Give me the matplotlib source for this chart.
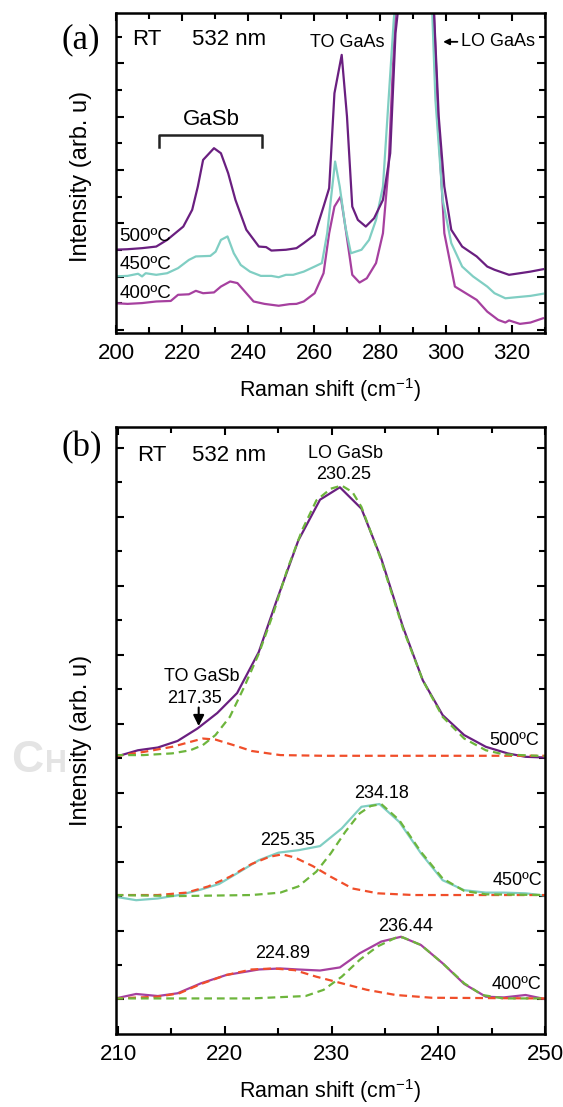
import matplotlib
matplotlib.use("Agg")
import matplotlib.pyplot as plt
from matplotlib.ticker import MultipleLocator

plt.rcParams['font.family'] = ['Liberation Sans', 'DejaVu Sans']
plt.rcParams['mathtext.default'] = 'regular'

# ---- panel (a): full spectra, y in arb. units (offset curves)
a_x500 = [199.2, 203.5, 207.9, 212.2, 215.5, 220.4, 223.1, 224.8, 226.4, 229.7, 231.8, 234.0, 236.2, 239.5,
          243.3, 245.5, 247.1, 251.5, 254.7, 256.9, 260.2, 262.9, 264.6, 266.2, 268.4, 270.0, 271.6, 273.3,
          275.7, 278.2, 280.9, 283.1, 284.7, 285.8, 288.0, 291.0, 294.0, 296.2, 297.8, 299.5, 301.6, 304.9,
          309.3, 312.5, 314.7, 319.1, 322.4, 325.6, 329.4]
a_y500 = [3.13, 3.15, 3.19, 3.25, 3.50, 4.00, 4.63, 5.50, 6.50, 6.94, 6.75, 6.00, 5.00, 3.88,
          3.25, 3.23, 3.10, 3.13, 3.19, 3.38, 3.69, 4.75, 5.44, 9.00, 10.44, 8.13, 4.75, 4.25,
          4.00, 4.31, 5.00, 6.75, 11.25, 12.5, 20.0, 25.0, 20.0, 12.5, 8.13, 5.50, 3.88, 3.25,
          2.88, 2.50, 2.38, 2.19, 2.25, 2.31, 2.40]

a_x450 = [199.2, 203.5, 206.7, 207.9, 209.0, 212.2, 215.5, 218.8, 222.1, 224.2, 228.6, 230.2, 231.8, 233.8,
          235.7, 237.8, 240.6, 243.9, 247.1, 249.3, 251.5, 253.7, 256.9, 260.2, 262.4, 264.0, 265.1, 266.4,
          267.8, 269.5, 271.2, 274.4, 276.7, 278.8, 280.9, 282.6, 284.2, 285.3, 288.0, 291.0, 294.0, 295.7,
          296.8, 299.0, 301.6, 304.9, 308.2, 312.5, 314.7, 318.0, 321.3, 325.6, 329.4]
a_y450 = [2.13, 2.15, 2.23, 2.13, 2.25, 2.19, 2.25, 2.44, 2.75, 2.88, 2.90, 3.06, 3.50, 3.63,
          3.00, 2.56, 2.31, 2.15, 2.15, 2.10, 2.19, 2.19, 2.31, 2.50, 2.63, 3.75, 5.00, 6.44,
          5.50, 4.00, 3.00, 3.13, 3.50, 4.25, 5.50, 8.75, 11.8, 13.0, 20.0, 25.0, 20.0, 12.5,
          8.75, 5.00, 3.38, 2.50, 2.13, 1.75, 1.50, 1.31, 1.35, 1.40, 1.48]

a_x400 = [199.2, 203.5, 207.9, 212.2, 216.6, 218.8, 222.1, 224.2, 226.4, 229.7, 231.8, 234.6, 236.8, 239.5,
          241.7, 245.0, 249.3, 252.6, 254.7, 256.9, 260.2, 262.9, 264.6, 266.2, 268.1, 269.5, 271.6, 273.8,
          276.0, 278.8, 280.9, 282.6, 283.7, 284.7, 285.8, 288.0, 291.0, 294.0, 296.2, 297.8, 299.5, 302.7,
          306.0, 309.3, 312.5, 315.8, 318.0, 319.1, 322.4, 325.6, 329.4]
a_y400 = [1.13, 1.10, 1.13, 1.19, 1.21, 1.44, 1.46, 1.59, 1.50, 1.53, 1.75, 1.94, 1.88, 1.50,
          1.19, 1.10, 1.03, 1.09, 1.10, 1.19, 1.50, 2.25, 3.75, 4.75, 5.13, 4.00, 2.19, 1.90,
          2.06, 2.63, 3.75, 6.25, 9.38, 12.0, 13.0, 20.0, 25.0, 20.0, 12.5, 7.50, 3.75, 1.75,
          1.50, 1.25, 0.81, 0.50, 0.40, 0.48, 0.35, 0.40, 0.56]

# ---- panel (b): GaSb region with peak fits
b_x500 = [209.76, 211.86, 213.72, 215.57, 217.43, 219.29, 221.15, 223.18, 224.86, 226.89, 228.92, 230.78,
          232.80, 234.66, 236.69, 238.55, 240.41, 242.43, 244.46, 246.49, 248.18, 250.03]
b_y500 = [7.04, 7.23, 7.31, 7.50, 7.86, 8.31, 8.89, 10.08, 11.58, 13.32, 14.50, 14.86,
          14.24, 12.79, 10.81, 9.26, 8.25, 7.67, 7.33, 7.14, 7.04, 7.02]
b_fit_lo500_x = [209.76, 212.36, 215.07, 216.76, 217.94, 219.12, 220.47, 221.82, 223.18, 224.53, 225.88,
                 227.23, 228.58, 229.93, 230.95, 231.96, 232.80, 234.66, 236.69, 238.55, 240.41, 242.43,
                 244.46, 246.15, 250.03]
b_fit_lo500_y = [7.09, 7.09, 7.14, 7.23, 7.38, 7.67, 8.20, 9.07, 10.03, 11.19, 12.50,
                 13.61, 14.48, 14.82, 14.91, 14.72, 14.29, 12.74, 10.76, 9.26, 8.20, 7.57,
                 7.23, 7.11, 7.06]
b_fit_to500_x = [209.76, 212.36, 215.07, 217.09, 217.94, 219.12, 220.81, 222.50, 225.20, 229.26, 250.03]
b_fit_to500_y = [7.06, 7.18, 7.33, 7.50, 7.57, 7.54, 7.38, 7.21, 7.09, 7.07, 7.07]

b_x450 = [209.76, 211.69, 213.72, 215.74, 217.77, 219.46, 221.15, 223.18, 225.03, 226.89, 228.92, 230.95,
          232.80, 234.49, 236.35, 238.38, 240.41, 242.43, 244.46, 246.15, 248.18, 250.03]
b_y450 = [2.98, 2.88, 2.93, 3.03, 3.19, 3.35, 3.66, 4.04, 4.26, 4.33, 4.45, 4.96,
          5.59, 5.67, 5.15, 4.24, 3.46, 3.17, 3.10, 3.10, 3.08, 3.01]
b_fit_a450_x = [209.76, 213.72, 216.42, 218.45, 220.47, 222.50, 224.19, 225.37, 226.55, 228.24, 229.93,
                231.96, 234.32, 237.70, 250.03]
b_fit_a450_y = [3.03, 3.03, 3.10, 3.28, 3.56, 3.93, 4.14, 4.21, 4.12, 3.87, 3.56,
                3.22, 3.08, 3.03, 3.03]
b_fit_b450_x = [209.76, 215.74, 222.50, 225.20, 226.89, 228.58, 229.93, 231.28, 232.64, 233.65, 234.66,
                236.35, 238.38, 240.41, 242.43, 244.46, 250.03]
b_fit_b450_y = [3.03, 3.00, 3.03, 3.10, 3.28, 3.71, 4.24, 4.86, 5.40, 5.61, 5.67,
                5.20, 4.28, 3.51, 3.15, 3.05, 3.03]

b_x400 = [209.76, 211.69, 213.72, 215.57, 217.77, 220.14, 223.18, 225.20, 226.89, 228.92, 230.78, 232.64,
          234.66, 236.52, 238.38, 240.41, 242.43, 244.46, 246.15, 248.18, 250.03]
b_y400 = [0.03, 0.16, 0.10, 0.18, 0.47, 0.71, 0.87, 0.90, 0.87, 0.84, 0.93, 1.34,
          1.68, 1.82, 1.58, 1.05, 0.45, 0.08, 0.06, 0.13, 0.01]
b_fit_a400_x = [209.76, 213.72, 215.74, 217.77, 220.14, 222.50, 224.53, 226.55, 228.58, 230.95, 233.31,
                236.01, 239.39, 250.03]
b_fit_a400_y = [0.03, 0.08, 0.18, 0.45, 0.71, 0.87, 0.90, 0.85, 0.66, 0.47, 0.28,
                0.13, 0.05, 0.03]
b_fit_b400_x = [209.76, 222.50, 227.57, 229.26, 230.95, 232.64, 234.32, 236.01, 236.69, 238.38, 240.41,
                242.43, 244.12, 246.15, 250.03]
b_fit_b400_y = [0.03, 0.03, 0.10, 0.28, 0.66, 1.15, 1.54, 1.79, 1.80, 1.58, 1.05,
                0.47, 0.13, 0.03, 0.03]

c500 = '#6a1f80'
c450 = '#80cec3'
c400 = '#a6409f'
cred = '#f04e2a'
cgrn = '#6db53c'

fig = plt.figure(figsize=(5.63, 11.07), dpi=100)
axa = fig.add_axes([0.206, 0.699, 0.762, 0.289])
axb = fig.add_axes([0.206, 0.066, 0.762, 0.548])

xlab = 'Raman shift (cm$^{\\mathregular{-1}}$)'


def style(ax):
    for s in ax.spines.values():
        s.set_linewidth(1.8)
    ax.tick_params(which='both', direction='in', top=True, right=True, width=1.5, labelsize=16, pad=7)
    ax.tick_params(which='major', length=5.5)
    ax.tick_params(which='minor', length=4)
    ax.tick_params(axis='y', labelleft=False)


# ---- (a)
axa.plot(a_x400, a_y400, color=c400, lw=1.6)
axa.plot(a_x450, a_y450, color=c450, lw=1.6)
axa.plot(a_x500, a_y500, color=c500, lw=1.6)
axa.set_xlim(200, 330)
axa.set_ylim(0, 12.0)
axa.xaxis.set_major_locator(MultipleLocator(20))
axa.xaxis.set_minor_locator(MultipleLocator(10))
axa.set_yticks([0.125 + i for i in range(0, 12, 2)])
axa.set_yticks([0.125 + i for i in range(1, 12, 2)], minor=True)
style(axa)
axa.set_xlabel(xlab, fontsize=15.5, labelpad=9)
axa.set_ylabel('Intensity (arb. u)', fontsize=17)
axa.yaxis.set_label_coords(-0.056, 0.49)

axa.text(205.0, 11.0, 'RT', fontsize=16, va='center')
axa.text(223.0, 11.0, '532 nm', fontsize=16, va='center')
axa.text(270.2, 10.9, 'TO GaAs', fontsize=13, ha='center', va='center')
axa.annotate('', xy=(298.3, 10.93), xytext=(304.3, 10.93),
             arrowprops=dict(arrowstyle='-|>', color='black', lw=1.3, mutation_scale=9))
axa.text(304.6, 10.93, 'LO GaAs', fontsize=13, va='center')
axa.plot([213.0, 213.0, 244.3, 244.3], [7.0, 7.44, 7.44, 7.0], color='#222222', lw=1.8)
axa.text(228.8, 8.0, 'GaSb', fontsize=16, ha='center', va='center')
axa.text(201.0, 3.63, '500ºC', fontsize=13.5, va='center')
axa.text(201.0, 2.56, '450ºC', fontsize=13.5, va='center')
axa.text(201.0, 1.50, '400ºC', fontsize=13.5, va='center')

# ---- (b)
axb.plot(b_x500, b_y500, color=c500, lw=1.6)
axb.plot(b_x450, b_y450, color=c450, lw=1.6)
axb.plot(b_x400, b_y400, color=c400, lw=1.6)
dash = (0, (3.5, 2.2))
axb.plot(b_fit_to500_x, b_fit_to500_y, color=cred, lw=1.6, ls=dash)
axb.plot(b_fit_lo500_x, b_fit_lo500_y, color=cgrn, lw=1.6, ls=dash)
axb.plot(b_fit_a450_x, b_fit_a450_y, color=cred, lw=1.6, ls=dash)
axb.plot(b_fit_b450_x, b_fit_b450_y, color=cgrn, lw=1.6, ls=dash)
axb.plot(b_fit_a400_x, b_fit_a400_y, color=cred, lw=1.6, ls=dash)
axb.plot(b_fit_b400_x, b_fit_b400_y, color=cgrn, lw=1.6, ls=dash)
axb.set_xlim(209.8, 250)
axb.set_ylim(-1, 16.6)
axb.xaxis.set_major_locator(MultipleLocator(10))
axb.xaxis.set_minor_locator(MultipleLocator(5))
axb.set_yticks(range(0, 17, 2))
axb.set_yticks(range(1, 17, 2), minor=True)
style(axb)
axb.set_xlabel(xlab, fontsize=15.5, labelpad=9)
axb.set_ylabel('Intensity (arb. u)', fontsize=17)
axb.yaxis.set_label_coords(-0.056, 0.484)

axb.text(211.8, 15.78, 'RT', fontsize=16, va='center')
axb.text(216.9, 15.78, '532 nm', fontsize=16, va='center')
axb.text(231.3, 15.83, 'LO GaSb', fontsize=13, ha='center', va='center')
axb.text(231.1, 15.22, '230.25', fontsize=13, ha='center', va='center')
axb.text(217.8, 9.36, 'TO GaSb', fontsize=13, ha='center', va='center')
axb.text(217.2, 8.73, '217.35', fontsize=13, ha='center', va='center')
axb.annotate('', xy=(217.55, 7.85), xytext=(217.55, 8.55),
             arrowprops=dict(arrowstyle='-|>', color='black', lw=1.5, mutation_scale=16))
axb.text(249.4, 7.52, '500ºC', fontsize=13, ha='right', va='center')
axb.text(234.7, 5.98, '234.18', fontsize=13, ha='center', va='center')
axb.text(225.9, 4.62, '225.35', fontsize=13, ha='center', va='center')
axb.text(249.7, 3.46, '450ºC', fontsize=13, ha='right', va='center')
axb.text(236.9, 2.11, '236.44', fontsize=13, ha='center', va='center')
axb.text(225.4, 1.34, '224.89', fontsize=13, ha='center', va='center')
axb.text(249.7, 0.42, '400ºC', fontsize=13, ha='right', va='center')

# panel letters and faint watermark
fig.text(0.110, 0.964, '(a)', fontsize=25, family='Liberation Serif', va='center')
fig.text(0.110, 0.596, '(b)', fontsize=25, family='Liberation Serif', va='center')
fig.text(0.020, 0.3026, 'C', fontsize=32, color='#e4e4e4', fontweight='bold', va='baseline',
         family=['Liberation Sans Narrow', 'Liberation Sans'])
fig.text(0.080, 0.3026, 'H', fontsize=22, color='#e4e4e4', fontweight='bold', va='baseline',
         family=['Liberation Sans Narrow', 'Liberation Sans'])

fig.savefig('out.png', dpi=100)
